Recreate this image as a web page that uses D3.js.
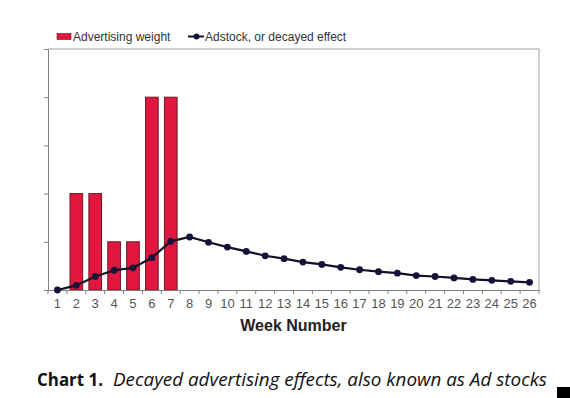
<!DOCTYPE html>
<html lang="en">
<head>
  <meta charset="UTF-8">
  <title>Decayed advertising effects</title>
  <script src="https://d3js.org/d3.v7.min.js"></script>
  <style>
    body { margin: 0; background: white; }
    svg { display: block; }
    .tick text { font-family: "Liberation Sans", Arial, sans-serif; }
  </style>
</head>
<body>
  <div id="chart"></div>
  <script>
    const weeks = d3.range(1, 27);
    const adWeight = [0, 20, 20, 10, 10, 40, 40, 0, 0, 0, 0, 0, 0, 0, 0, 0, 0, 0, 0, 0, 0, 0, 0, 0, 0, 0];
    const adstock = [0, 0.96, 2.8, 4.1, 4.6, 6.7, 10.1, 11.0, 9.9, 8.9, 8.0, 7.1, 6.5, 5.8, 5.3,
                     4.7, 4.2, 3.8, 3.5, 3.0, 2.8, 2.5, 2.2, 2.0, 1.8, 1.6];
    const yTicks = [0, 10, 20, 30, 40, 50];

    const width = 570, height = 398;
    const margin = { top: 49, right: 31, bottom: 108, left: 48 };
    const innerW = width - margin.left - margin.right;
    const innerH = height - margin.top - margin.bottom;

    const svg = d3.select("#chart").append("svg")
      .attr("width", width)
      .attr("height", height);

    const g = svg.append("g")
      .attr("transform", `translate(${margin.left},${margin.top})`);

    const x = d3.scaleBand().domain(weeks).range([0, innerW]).padding(0);
    const y = d3.scaleLinear().domain([0, 50]).range([innerH, 0]);

    // plot frame (top and right)
    g.append("path")
      .attr("d", `M0,0H${innerW}V${innerH}`)
      .attr("fill", "none")
      .attr("stroke", "#a0a0a0")
      .attr("stroke-width", 1);

    // bars
    const barW = x.bandwidth() * 0.67;
    g.selectAll("rect.bar")
      .data(weeks.map((w, i) => ({ w, v: adWeight[i] })).filter(d => d.v > 0))
      .enter().append("rect")
      .attr("class", "bar")
      .attr("x", d => x(d.w) + (x.bandwidth() - barW) / 2)
      .attr("y", d => y(d.v))
      .attr("width", barW)
      .attr("height", d => y(0) - y(d.v))
      .attr("fill", "#e2173f")
      .attr("stroke", "#6e1624")
      .attr("stroke-width", 1);

    // y axis (no labels)
    const yAxis = g.append("g")
      .call(d3.axisLeft(y).tickValues(yTicks).tickSize(4).tickFormat(""));
    yAxis.select(".domain").attr("stroke", "#808080");
    yAxis.selectAll(".tick line").attr("stroke", "#808080");

    // x axis: ticks between categories
    const xAxis = g.append("g")
      .attr("transform", `translate(0,${innerH})`)
      .call(d3.axisBottom(x).tickSize(0).tickPadding(9));
    xAxis.select(".domain").attr("stroke", "#808080");
    xAxis.selectAll(".tick text")
      .attr("font-size", 13)
      .attr("fill", "#555");
    g.append("g")
      .selectAll("line")
      .data(weeks.concat([27]))
      .enter().append("line")
      .attr("x1", d => d <= 26 ? x(d) : innerW)
      .attr("x2", d => d <= 26 ? x(d) : innerW)
      .attr("y1", innerH)
      .attr("y2", innerH + 4)
      .attr("stroke", "#808080");

    // adstock line
    const line = d3.line()
      .x((d, i) => x(weeks[i]) + x.bandwidth() / 2)
      .y(d => y(d));
    g.append("path")
      .datum(adstock)
      .attr("d", line)
      .attr("fill", "none")
      .attr("stroke", "#111127")
      .attr("stroke-width", 2.2);
    g.selectAll("circle.pt")
      .data(adstock)
      .enter().append("circle")
      .attr("class", "pt")
      .attr("cx", (d, i) => x(weeks[i]) + x.bandwidth() / 2)
      .attr("cy", d => y(d))
      .attr("r", 3.4)
      .attr("fill", "#14143a");

    // x axis title
    svg.append("text")
      .attr("x", margin.left + innerW / 2)
      .attr("y", 331)
      .attr("text-anchor", "middle")
      .attr("font-family", "Liberation Sans, Arial, sans-serif")
      .attr("font-weight", "bold")
      .attr("font-size", 16)
      .attr("fill", "#222")
      .text("Week Number");

    // legend
    const leg = svg.append("g").attr("font-family", "Liberation Sans, Arial, sans-serif")
      .attr("font-size", 12).attr("fill", "#333");
    leg.append("rect")
      .attr("x", 57).attr("y", 33.5).attr("width", 14).attr("height", 6)
      .attr("fill", "#e2173f").attr("stroke", "#6e1624").attr("stroke-width", 0.6);
    leg.append("text").attr("x", 73).attr("y", 41).text("Advertising weight");
    leg.append("line")
      .attr("x1", 188).attr("x2", 204).attr("y1", 36.5).attr("y2", 36.5)
      .attr("stroke", "#111127").attr("stroke-width", 2);
    leg.append("circle").attr("cx", 196.5).attr("cy", 36.5).attr("r", 3)
      .attr("fill", "#14143a");
    leg.append("text").attr("x", 205).attr("y", 41).text("Adstock, or decayed effect");

    // caption
    const cap = svg.append("text")
      .attr("y", 386)
      .attr("font-family", "Open Sans, Noto Sans, sans-serif")
      .attr("font-size", 17.5)
      .attr("fill", "#111");
    cap.append("tspan").attr("x", 37).attr("font-weight", "bold")
      .attr("textLength", 66).attr("lengthAdjust", "spacingAndGlyphs")
      .text("Chart 1.");
    cap.append("tspan").attr("x", 113).attr("font-style", "italic")
      .attr("textLength", 434).attr("lengthAdjust", "spacingAndGlyphs")
      .text("Decayed advertising effects, also known as Ad stocks");

    svg.append("rect")
      .attr("x", 557).attr("y", 387).attr("width", 13).attr("height", 11)
      .attr("fill", "#000");
  </script>
</body>
</html>
